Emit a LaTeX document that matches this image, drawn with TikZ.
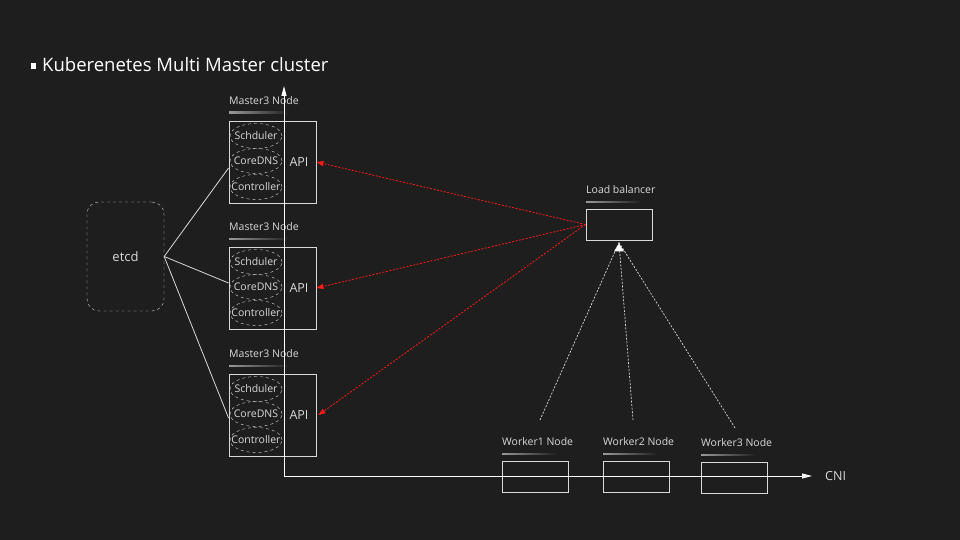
\documentclass[tikz,border=0pt]{standalone}
\usepackage{fontspec}
\setmainfont{Open Sans}
\usetikzlibrary{positioning,arrows.meta,shapes.geometric}
\definecolor{bg}{HTML}{1E1E1E}
\definecolor{txt}{HTML}{D9D9D9}
\definecolor{lnk}{HTML}{FF1A1A}
\tikzset{
  lbl/.style={text=txt, font=\fontsize{10.5}{12}\selectfont, anchor=west, inner sep=0},
  box/.style={draw=txt, line width=0.9pt, inner sep=0},
  comp/.style={draw=txt, dashed, ellipse, minimum width=52pt, minimum height=25pt, inner sep=0, text=txt, font=\fontsize{10.5}{12}\selectfont},
  uline/.style={left color=gray!80, right color=bg, draw=none},
  apilink/.style={draw=lnk, line width=0.8pt, dash pattern=on 2pt off 1.5pt, -{Triangle[length=7pt,width=5pt]}},
  wlink/.style={draw=txt, line width=0.7pt, dash pattern=on 2pt off 1.5pt},
  axis/.style={draw=white, line width=0.9pt, -{Triangle[length=10pt,width=5pt]}}
}
\begin{document}
\begin{tikzpicture}[x=1pt,y=-1pt]
  \fill[bg] (0,0) rectangle (960,540);
  % title
  \fill[white] (31,63) rectangle (36,69);
  \node[anchor=base west, inner sep=0, text=white, font=\fontsize{18.5}{22}\selectfont] (title) at (42,72) {Kuberenetes Multi Master cluster};
  % master nodes
  \foreach \i/\y in {1/162,2/288,3/415}{
    \node[box, minimum width=87pt, minimum height=82pt] (m\i) at (272.5,\y) {};
    \node[lbl] (mlbl\i) at (229,\y-61) {Master3 Node};
    \shade[uline] (229,\y-50) rectangle (290,\y-48.8);
    \node[comp] (sch\i) at (256,\y-26) {\makebox[0pt]{Schduler}};
    \node[comp] (dns\i) at (256,\y-1) {\makebox[0pt]{CoreDNS}};
    \node[comp] (ctl\i) at (256,\y+25) {\makebox[0pt]{Controller}};
    \node[text=txt, font=\fontsize{12.5}{14}\selectfont, inner sep=0] (api\i) at (299,\y) {API};
  }
  % etcd
  \node[draw=txt, dashed, rounded corners=12pt, minimum width=77pt, minimum height=109pt, text=txt, font=\fontsize{13}{15}\selectfont] (etcd) at (125.5,256.5) {etcd};
  \draw[txt, line width=0.8pt] (etcd.east) -- ([yshift=-6pt]m1.west);
  \draw[txt, line width=0.8pt] (etcd.east) -- ([yshift=5pt]m2.west);
  \draw[txt, line width=0.8pt] (etcd.east) -- ([yshift=-3pt]m3.west);
  % load balancer
  \node[box, minimum width=66pt, minimum height=31pt] (lb) at (619,224.5) {};
  \node[lbl] (lblb) at (586,190) {Load balancer};
  \shade[uline] (586,201.5) rectangle (642,202.7);
  \draw[apilink] (lb.west) -- (m1.east);
  \draw[apilink] (lb.west) -- (m2.east);
  \draw[apilink] (lb.west) -- ([xshift=2pt]m3.east);
  % worker nodes
  \foreach \i/\x/\y/\tx/\ty in {1/535/476.5/540/420,2/636/476.5/633/420,3/734/477.5/735/428}{
    \node[box, minimum width=66pt, minimum height=31pt] (w\i) at (\x,\y) {};
    \node[lbl] (wlbl\i) at (\x-33,\y-34.5) {Worker\i{} Node};
    \shade[uline] (\x-33,\y-23) rectangle (\x+22,\y-21.8);
    \coordinate (wtop\i) at (\tx,\ty);
    \draw[wlink] (wtop\i) -- ([yshift=-2pt]lb.south);
  }
  \fill[white] ([yshift=-3pt]lb.south) -- ++(-5,8) -- ++(10,0) -- cycle;
  % axes
  \coordinate (o) at (284,476);
  \coordinate (yend) at (284,86);
  \coordinate (xend) at (812,476);
  \draw[axis] (o) -- (yend);
  \draw[axis] (o) -- (xend);
  \node[text=txt, font=\fontsize{12.5}{14}\selectfont, anchor=west, inner sep=0] (cni) at (825,476) {CNI};
\end{tikzpicture}
\end{document}
